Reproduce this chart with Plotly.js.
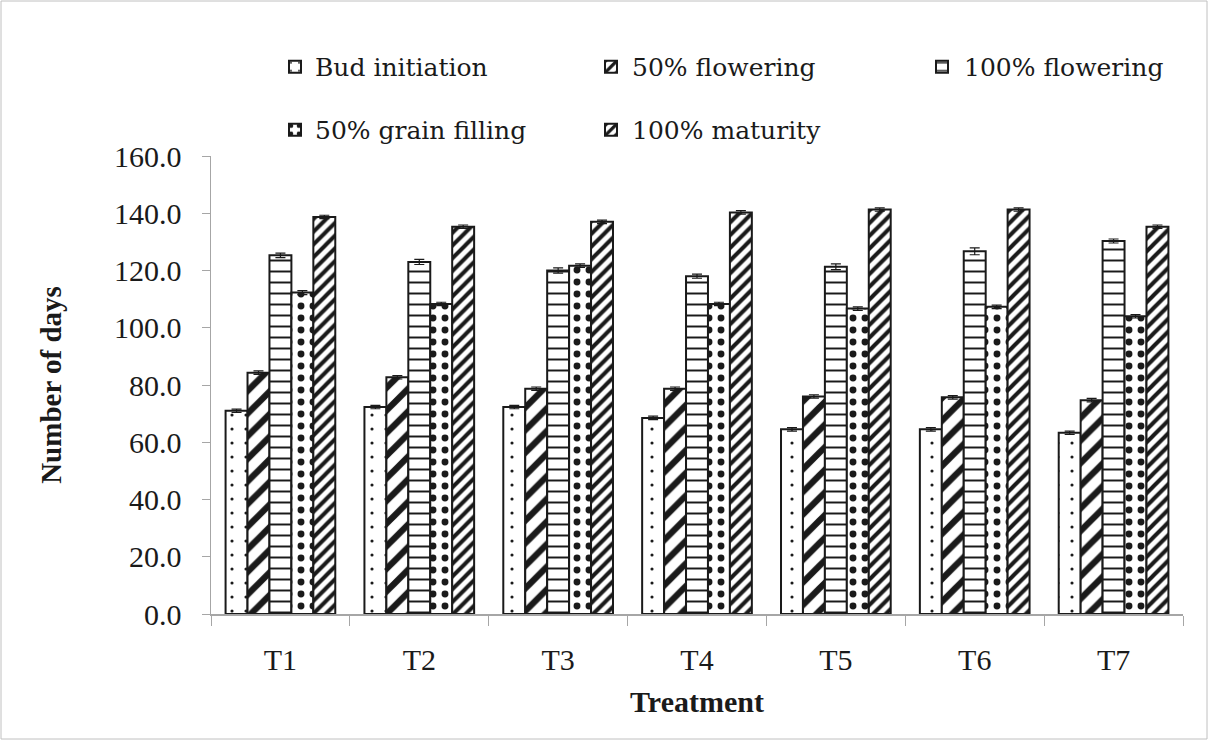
<!DOCTYPE html>
<html><head><meta charset="utf-8">
<script src="https://cdn.plot.ly/plotly-3.0.1.min.js"></script>
<style>html,body{margin:0;padding:0;background:#fff}#chart{width:1208px;height:740px}</style>
</head><body><div id="chart"></div>
<script>
const categories = ["T1","T2","T3","T4","T5","T6","T7"];
const seriesNames = ["Bud initiation", "50% flowering", "100% flowering", "50% grain filling", "100% maturity"];
const budInitiation   = [71.0, 72.3, 72.3, 68.5, 64.5, 64.5, 63.3];
const flowering50     = [84.3, 82.7, 78.7, 78.7, 76.0, 75.7, 74.7];
const flowering100    = [125.3, 123.0, 120.0, 118.0, 121.3, 126.7, 130.3];
const grainFilling50  = [112.3, 108.3, 121.7, 108.3, 106.7, 107.3, 104.0];
const maturity100     = [138.7, 135.3, 137.0, 140.3, 141.3, 141.3, 135.3];
const errBud   = [0.6, 0.6, 0.6, 0.6, 0.6, 0.6, 0.6];
const err50f   = [0.6, 0.6, 0.6, 0.6, 0.6, 0.6, 0.6];
const err100f  = [0.8, 0.9, 0.9, 0.7, 1.0, 1.2, 0.7];
const errGrain = [0.7, 0.6, 0.6, 0.6, 0.6, 0.6, 0.6];
const errMat   = [0.6, 0.6, 0.6, 0.6, 0.6, 0.6, 0.6];

const serif = "Liberation Serif";
const legendSerif = "DejaVu Serif";
const ink = "#1a1a1a";
function bar(name, y, err, pattern, legend) {
  return {
    type: "bar", name: " ", legendgroup: name, x: categories, y: y, legend: legend,
    marker: { color: "#ffffff", line: { color: ink, width: 2 },
      pattern: Object.assign({ fgcolor: ink, bgcolor: "#ffffff", fillmode: "replace" }, pattern) },
    error_y: { type: "data", array: err, visible: true, color: ink, thickness: 1.2, width: 5 }
  };
}
const data = [
  bar(seriesNames[0], budInitiation, errBud, { shape: ".", size: 14, solidity: 0.04 }, "legend"),
  bar(seriesNames[1], flowering50, err50f, { shape: "/", size: 16, solidity: 0.4 }, "legend2"),
  bar(seriesNames[2], flowering100, err100f, { shape: "-", size: 11, solidity: 0.18 }, "legend3"),
  bar(seriesNames[3], grainFilling50, errGrain, { shape: ".", size: 12, solidity: 0.26 }, "legend4"),
  bar(seriesNames[4], maturity100, errMat, { shape: "/", size: 9, solidity: 0.45 }, "legend5")
];
const L = 211, R = 25, T = 156, B = 126, W = 1208, H = 740;
const pw = W - L - R, ph = H - T - B;
const px = v => (v - L) / pw, py = v => (H - B - v) / ph;
function leg(x, y) {
  return { orientation: "h", x: px(x), y: py(y), xanchor: "left", yanchor: "middle",
    font: { family: serif, size: 28, color: ink }, itemwidth: 30, bgcolor: "rgba(0,0,0,0)", borderwidth: 0 };
}
const colSym = [275, 591, 922, 275, 591];
const colText = [313, 630, 962, 313, 630];
const rowY = [67, 67, 67, 130, 130];
const annotations = seriesNames.map((n, i) => ({
  text: n, xref: "paper", yref: "paper", x: px(colText[i]), y: py(rowY[i]),
  xanchor: "left", yanchor: "middle", showarrow: false,
  font: { family: legendSerif, size: 25, color: ink }
}));
const layout = {
  width: W, height: H,
  margin: { l: L, r: R, t: T, b: B },
  paper_bgcolor: "#ffffff", plot_bgcolor: "#ffffff",
  font: { family: serif, size: 30, color: ink },
  barmode: "group", bargap: 0.21, bargroupgap: 0,
  showlegend: true,
  legend: leg(colSym[0], rowY[0]), legend2: leg(colSym[1], rowY[1]), legend3: leg(colSym[2], rowY[2]),
  legend4: leg(colSym[3], rowY[3]), legend5: leg(colSym[4], rowY[4]),
  annotations: annotations,
  xaxis: {
    type: "category", showline: true, linecolor: "#a6a6a6", linewidth: 1.5,
    ticks: "outside", tickson: "boundaries", ticklen: 10, tickcolor: "#a6a6a6",
    showgrid: false, zeroline: false, ticklabelstandoff: 18,
    tickfont: { family: serif, size: 30, color: ink },
    title: { text: "<b>Treatment</b>", font: { family: serif, size: 30, color: ink }, standoff: 16 }
  },
  yaxis: {
    range: [0, 160], dtick: 20, tickformat: ".1f",
    showline: true, linecolor: "#a6a6a6", linewidth: 1.5,
    ticks: "outside", ticklen: 8, tickcolor: "#a6a6a6",
    showgrid: false, zeroline: false, ticklabelstandoff: 14,
    tickfont: { family: serif, size: 30, color: ink },
    title: { text: "<b>Number of days</b>", font: { family: serif, size: 29, color: ink }, standoff: 44 }
  },
  shapes: [{ type: "rect", xref: "paper", yref: "paper",
    x0: px(1), x1: px(W - 1), y0: py(1), y1: py(H - 1),
    line: { color: "#c0c0c0", width: 1 }, fillcolor: "rgba(0,0,0,0)", layer: "below" }]
};
Plotly.newPlot("chart", data, layout, { displayModeBar: false, staticPlot: true });
</script></body></html>
